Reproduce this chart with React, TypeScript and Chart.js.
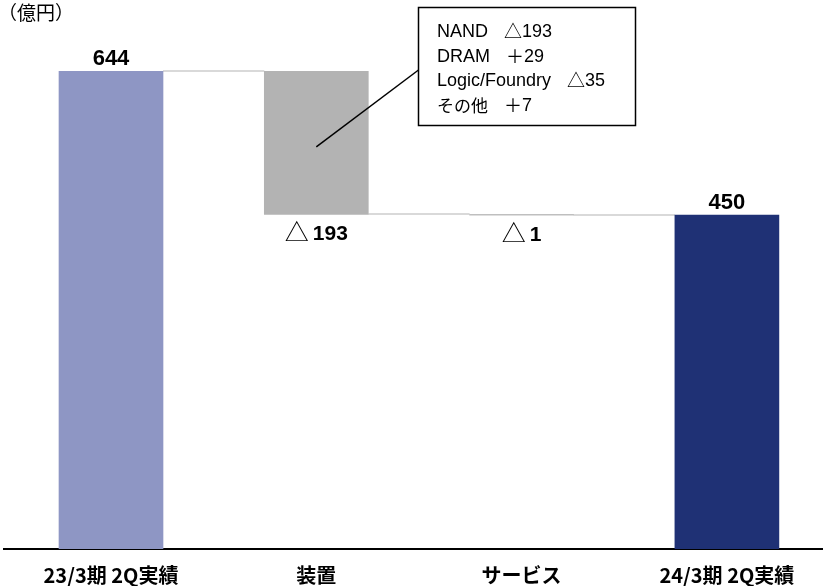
import React, { useEffect, useRef } from "react";
import { Chart, registerables } from "chart.js";

Chart.register(...registerables);

const categories = ["23/3期 2Q実績", "装置", "サービス", "24/3期 2Q実績"];
const values = [644, -193, -1, 450];
const kinds = ["total", "delta", "delta", "total"];
const valueLabels = ["644", "193", "1", "450"];
const barColors = ["#8E96C4", "#B3B3B3", "#BFBFBF", "#1F3175"];
const unitLabel = "（億円）";
const noteNames = ["NAND", "DRAM", "Logic/Foundry", "その他"];
const noteSigns = ["△", "＋", "△", "＋"];
const noteValues = ["193", "29", "35", "7"];

// build floating ranges from running totals
const ranges: [number, number][] = [];
const levels: number[] = [];
{
  let level = 0;
  for (let i = 0; i < values.length; i++) {
    if (kinds[i] === "total") {
      ranges.push([0, values[i]]);
      level = values[i];
    } else {
      const next = level + values[i];
      ranges.push([Math.min(level, next), Math.max(level, next)]);
      level = next;
    }
    levels.push(level);
  }
}

const LATIN = "'Liberation Sans', Arial, 'Noto Sans CJK JP', sans-serif";
const CJK = "'Noto Sans CJK JP', 'Liberation Sans', sans-serif";
const isCJK = (s: string) => /[\u3000-\u9fff]/.test(s);

const waterfallPlugin = {
  id: "waterfallExtras",
  beforeDatasetsDraw(chart: any) {
    const ctx = chart.ctx;
    const meta = chart.getDatasetMeta(0);
    const ys = chart.scales.y;
    ctx.save();
    ctx.strokeStyle = "#D9D9D9";
    ctx.lineWidth = 2;
    for (let i = 0; i < meta.data.length - 1; i++) {
      const a = meta.data[i];
      const b = meta.data[i + 1];
      const y = Math.round(ys.getPixelForValue(levels[i]));
      ctx.beginPath();
      ctx.moveTo(a.x + a.width / 2, y);
      ctx.lineTo(b.x - b.width / 2, y);
      ctx.stroke();
    }
    ctx.restore();
  },
  afterDatasetsDraw(chart: any) {
    const ctx = chart.ctx;
    const meta = chart.getDatasetMeta(0);
    const ys = chart.scales.y;
    ctx.save();
    ctx.fillStyle = "#000";
    for (let i = 0; i < meta.data.length; i++) {
      const el = meta.data[i];
      if (kinds[i] === "total") {
        ctx.font = `bold 22px ${LATIN}`;
        ctx.textAlign = "center";
        ctx.textBaseline = "alphabetic";
        ctx.fillText(valueLabels[i], el.x, ys.getPixelForValue(ranges[i][1]) - 6);
      } else {
        const yb = ys.getPixelForValue(ranges[i][0]) + 26;
        ctx.textBaseline = "alphabetic";
        ctx.textAlign = "left";
        ctx.font = `24px ${CJK}`;
        const tri = "△";
        const wTri = ctx.measureText(tri).width;
        const gap = 4;
        ctx.font = `bold 21px ${LATIN}`;
        const wNum = ctx.measureText(valueLabels[i]).width;
        const total = wTri + gap + wNum;
        let x = el.x - total / 2;
        ctx.font = `24px ${CJK}`;
        ctx.fillText(tri, x, yb + 1);
        x += wTri + gap;
        ctx.font = `bold 21px ${LATIN}`;
        ctx.fillText(valueLabels[i], x, yb);
      }
    }
    // unit label
    ctx.font = `19px ${CJK}`;
    ctx.textAlign = "left";
    ctx.textBaseline = "alphabetic";
    ctx.fillText(unitLabel, -2, 20);

    // callout box
    const boxL = 418.5, boxT = 7.5, boxW = 217, boxH = 118;
    const el = meta.data[1];
    ctx.strokeStyle = "#000";
    ctx.lineWidth = 1.5;
    ctx.beginPath();
    ctx.moveTo(el.x, ys.getPixelForValue(542));
    ctx.lineTo(boxL, 70);
    ctx.stroke();
    ctx.fillStyle = "#fff";
    ctx.fillRect(boxL, boxT, boxW, boxH);
    ctx.strokeRect(boxL, boxT, boxW, boxH);
    ctx.fillStyle = "#000";
    for (let k = 0; k < noteNames.length; k++) {
      const yb = 37 + k * 24.5;
      let x = 437;
      ctx.font = isCJK(noteNames[k]) ? `17px ${CJK}` : `18px ${LATIN}`;
      ctx.fillText(noteNames[k], x, yb + (isCJK(noteNames[k]) ? 1 : 0));
      x += ctx.measureText(noteNames[k]).width + 16;
      ctx.font = `18px ${CJK}`;
      ctx.fillText(noteSigns[k], x, yb + 1);
      x += ctx.measureText(noteSigns[k]).width;
      ctx.font = `18px ${LATIN}`;
      ctx.fillText(noteValues[k], x, yb);
    }
    ctx.restore();
  },
};

export default function App() {
  const ref = useRef<HTMLCanvasElement | null>(null);
  useEffect(() => {
    if (!ref.current) return;
    const chart = new Chart(ref.current, {
      type: "bar",
      data: {
        datasets: [
          {
            data: ranges.map((r, i) => ({ x: i, y: r })) as any,
            backgroundColor: barColors,
            borderWidth: 0,
            barThickness: 104,
          },
        ],
      },
      options: {
        animation: false,
        responsive: false,
        devicePixelRatio: 1,
        layout: { padding: { left: 4, right: 0, top: 0, bottom: 0 } },
        plugins: { legend: { display: false }, tooltip: { enabled: false } },
        scales: {
          x: {
            type: "linear",
            offset: false,
            min: -0.5212,
            max: 3.4681,
            grid: { display: false, drawTicks: false, offset: false },
            border: { display: true, color: "#000", width: 2 },
            afterFit: (scale: any) => {
              scale.height = 37;
            },
            ticks: {
              stepSize: 1,
              includeBounds: false,
              autoSkip: false,
              maxRotation: 0,
              padding: 14,
              color: "#000",
              font: { family: CJK, size: 20, weight: "bold" },
              callback: (v: any) =>
                Number.isInteger(v) && categories[v] !== undefined ? categories[v] : "",
            },
          },
          y: {
            display: false,
            min: 0,
            max: 740,
          },
        },
      },
      plugins: [waterfallPlugin],
    });
    return () => chart.destroy();
  }, []);
  return (
    <div style={{ position: "fixed", left: 0, top: 0, width: 823, height: 586, background: "#fff" }}>
      <canvas ref={ref} width={823} height={586} style={{ display: "block" }} />
    </div>
  );
}
